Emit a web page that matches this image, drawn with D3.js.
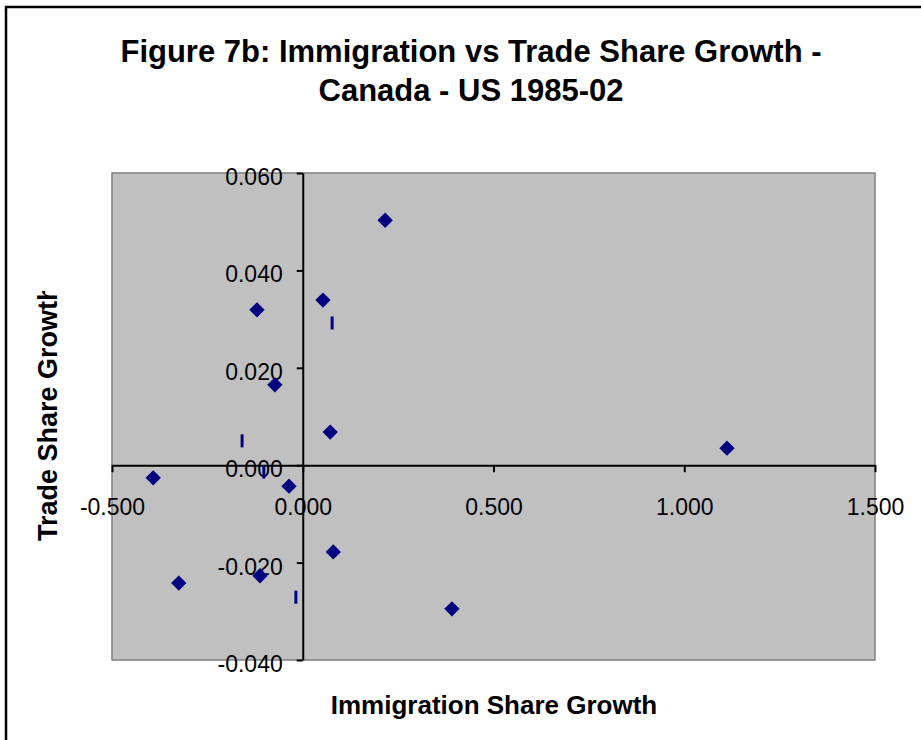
<!DOCTYPE html>
<html>
<head>
<meta charset="utf-8">
<script src="https://cdn.jsdelivr.net/npm/d3@7"></script>
<style>
   body { margin: 0; background: #fff; }
   text { font-family: "Liberation Sans", Arial, sans-serif; }
</style>
</head>
<body>
<script>
/** DATA **/
var immigrationGrowth = [0.216, 0.053, -0.120, -0.073, 0.072, 1.112, -0.392, -0.036, -0.325, -0.112, 0.080, 0.391];
var tradeGrowth = [0.0503, 0.0339, 0.0319, 0.0165, 0.0068, 0.0035, -0.0026, -0.0043, -0.0242, -0.0227, -0.0178, -0.0295];
// second series, drawn with dash markers
var dashImmigration = [0.077, -0.159, -0.102, -0.018];
var dashTrade = [0.0292, 0.0050, -0.0014, -0.0271];
var xTicks = [-0.5, 0, 0.5, 1.0, 1.5];
var yTicks = [-0.04, -0.02, 0, 0.02, 0.04, 0.06];

var width = 921, height = 740;
var plot = { left: 112, right: 875, top: 173, bottom: 660 };

var svg = d3.select('body').append('svg')
   .attr('width', width)
   .attr('height', height);

// outer chart border
svg.append('rect')
   .attr('x', 6).attr('y', 7)
   .attr('width', width + 10).attr('height', height + 10)
   .attr('fill', 'none')
   .attr('stroke', '#000')
   .attr('stroke-width', 2.5);

var x = d3.scaleLinear().domain([-0.5, 1.5]).range([plot.left, plot.right]);
var y = d3.scaleLinear().domain([-0.04, 0.06]).range([plot.bottom, plot.top]);
var fmt = function(d){ return d3.format('.3f')(d).replace('\u2212', '-'); };

// plot area
svg.append('rect')
   .attr('x', plot.left).attr('y', plot.top)
   .attr('width', plot.right - plot.left)
   .attr('height', plot.bottom - plot.top)
   .attr('fill', '#c0c0c0')
   .attr('stroke', '#808080')
   .attr('stroke-width', 1.5);

// axes cross at zero
var xAxis = svg.append('g')
   .attr('transform', 'translate(0,' + y(0) + ')')
   .call(d3.axisBottom(x).tickValues(xTicks).tickFormat(fmt).tickSizeInner(7).tickSizeOuter(0).tickPadding(26));
var yAxis = svg.append('g')
   .attr('transform', 'translate(' + x(0) + ',0)')
   .call(d3.axisLeft(y).tickValues(yTicks).tickFormat(fmt).tickSizeInner(6).tickSizeOuter(0).tickPadding(14));

[xAxis, yAxis].forEach(function(g){
   g.select('.domain').attr('stroke', '#000').attr('stroke-width', 2);
   g.selectAll('.tick line').attr('stroke', '#000').attr('stroke-width', 2);
   g.selectAll('.tick text')
      .attr('fill', '#000')
      .style('font-size', '23px');
});
yAxis.selectAll('.tick text').attr('dy', '0.5em');

// diamond markers
svg.selectAll('path.pt')
   .data(immigrationGrowth)
   .enter()
   .append('path')
   .attr('class', 'pt')
   .attr('d', d3.symbol().type(d3.symbolDiamond2).size(150))
   .attr('transform', function(d, i){
      return 'translate(' + x(d) + ',' + y(tradeGrowth[i]) + ')';
   })
   .attr('fill', '#000080');

// dash markers
svg.selectAll('rect.dash')
   .data(dashImmigration)
   .enter()
   .append('rect')
   .attr('class', 'dash')
   .attr('x', function(d){ return x(d) - 1.5; })
   .attr('y', function(d, i){ return y(dashTrade[i]) - 6.5; })
   .attr('width', 3)
   .attr('height', 13)
   .attr('fill', '#000080');

// title
var title = svg.append('text')
   .attr('text-anchor', 'middle')
   .style('font-size', '31px')
   .style('font-weight', 'bold');
title.append('tspan').attr('x', 471).attr('y', 62).text('Figure 7b: Immigration vs Trade Share Growth -');
title.append('tspan').attr('x', 471).attr('y', 101).text('Canada - US 1985-02');

// axis titles
svg.append('text')
   .attr('x', 494).attr('y', 714)
   .attr('text-anchor', 'middle')
   .style('font-size', '26px')
   .style('font-weight', 'bold')
   .text('Immigration Share Growth');

svg.append('clipPath').attr('id', 'yclip')
   .append('rect').attr('x', 0).attr('y', 291).attr('width', 100).attr('height', 400);

svg.append('g')
   .attr('clip-path', 'url(#yclip)')
   .append('text')
   .attr('transform', 'translate(57,541) rotate(-90)')
   .style('font-size', '27px')
   .style('font-weight', 'bold')
   .text('Trade Share Growth');
</script>
</body>
</html>
